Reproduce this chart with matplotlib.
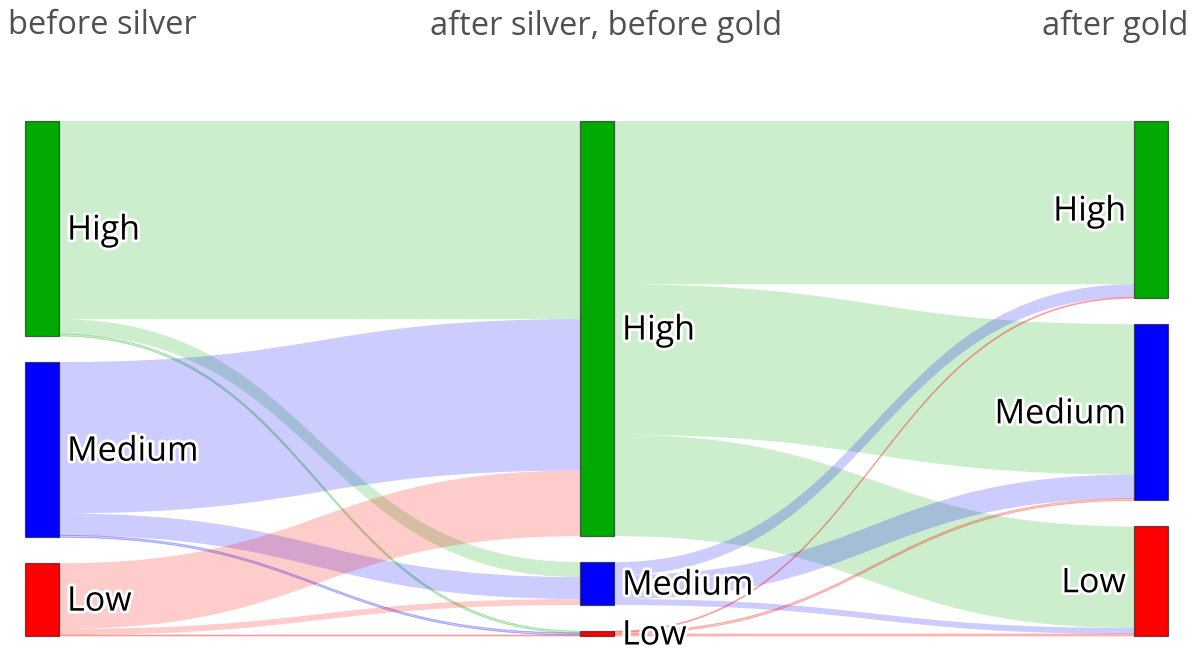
import numpy as np
import matplotlib.pyplot as plt
from matplotlib.path import Path
from matplotlib.patches import PathPatch, Rectangle
import matplotlib.patheffects as pe
from matplotlib.colors import to_rgb

plt.rcParams['font.family'] = ['Open Sans', 'DejaVu Sans']

# ── data ────────────────────────────────────
STAGES = ["before silver", "after silver, before gold", "after gold"]
LEVELS = ["High", "Medium", "Low"]
LEVEL_COLORS = ["#00aa00", "#0000ff", "#ff0000"]

# rows = from level, cols = to level
FLOW_1_2 = [[199, 15, 2],
            [152, 22, 2],
            [66, 6, 1]]
FLOW_2_3 = [[164, 151, 102],
            [13, 24, 6],
            [1, 2, 2]]

# ── layout (pixels) ─────────────────────────
W, H = 1196, 660
TOP, BOTTOM = 121, 636
PAD = 26
NODE_W = 34
COL_X = [25, 580, 1134]

flows = [np.array(FLOW_1_2, float), np.array(FLOW_2_3, float)]
totals = [flows[0].sum(axis=1),
          np.maximum(flows[0].sum(axis=0), flows[1].sum(axis=1)),
          flows[1].sum(axis=0)]
scale = (BOTTOM - TOP - PAD * (len(LEVELS) - 1)) / max(t.sum() for t in totals)

node_y = []
for t in totals:
    ys, y = [], TOP
    for v in t:
        ys.append(y)
        y += v * scale + PAD
    node_y.append(ys)

fig = plt.figure(figsize=(W / 100, H / 100), dpi=100)
ax = fig.add_axes([0, 0, 1, 1])
ax.set_xlim(0, W)
ax.set_ylim(H, 0)
ax.axis("off")

# links
for c, f in enumerate(flows):
    x0 = COL_X[c] + NODE_W
    x1 = COL_X[c + 1]
    xm = (x0 + x1) / 2
    out_off = list(node_y[c])
    in_off = list(node_y[c + 1])
    for i in range(len(LEVELS)):
        for j in range(len(LEVELS)):
            h = f[i, j] * scale
            ys, yt = out_off[i], in_off[j]
            out_off[i] += h
            in_off[j] += h
            verts = [(x0, ys), (xm, ys), (xm, yt), (x1, yt),
                     (x1, yt + h), (xm, yt + h), (xm, ys + h), (x0, ys + h), (x0, ys)]
            codes = [Path.MOVETO, Path.CURVE4, Path.CURVE4, Path.CURVE4,
                     Path.LINETO, Path.CURVE4, Path.CURVE4, Path.CURVE4, Path.CLOSEPOLY]
            rgb = to_rgb(LEVEL_COLORS[i])
            # thin links get a faint outline so they stay visible
            edge = (*rgb, 0.3) if h < 4 else "none"
            ax.add_patch(PathPatch(Path(verts, codes), facecolor=(*rgb, 0.2),
                                   edgecolor=edge, lw=0.6, zorder=1))

# nodes + labels
halo = [pe.withStroke(linewidth=4, foreground="white")]
for c, ys in enumerate(node_y):
    for i, y in enumerate(ys):
        h = totals[c][i] * scale
        ax.add_patch(Rectangle((COL_X[c], y), NODE_W, h, facecolor=LEVEL_COLORS[i],
                               edgecolor=(0, 0, 0, 0.55), lw=0.9, zorder=2))
        if c < 2:
            ax.text(COL_X[c] + NODE_W + 8, y + h / 2 + 2, LEVELS[i], ha="left", va="center",
                    fontsize=24.5, color="black", path_effects=halo, zorder=3)
        else:
            ax.text(COL_X[c] - 8, y + h / 2 + 2, LEVELS[i], ha="right", va="center",
                    fontsize=24.5, color="black", path_effects=halo, zorder=3)

# stage headers
ax.text(8, 26, STAGES[0], ha="left", va="center", fontsize=23.5, color="#505050")
ax.text(606, 26, STAGES[1], ha="center", va="center", fontsize=23.5, color="#505050")
ax.text(1188, 26, STAGES[2], ha="right", va="center", fontsize=23.5, color="#505050")

fig.savefig("out.png", dpi=100)
